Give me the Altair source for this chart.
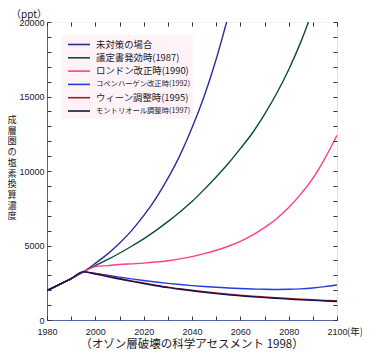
import altair as alt
import pandas as pd

# ---------------- data ----------------
series_names = [
    "未対策の場合",
    "議定書発効時(1987)",
    "ロンドン改正時(1990)",
    "コペンハーゲン改正時(1992)",
    "ウィーン調整時(1995)",
    "モントリオール調整時(1997)",
]
series_colors = ["#2a2e96", "#0f4a3a", "#ff3d8c", "#1f3ee0", "#a01832", "#14144c"]

common_years = [1980, 1985, 1990, 1995]
common_vals = [1970, 2370, 2780, 3230]

none_years = [2000, 2005, 2010, 2015, 2020, 2025, 2030, 2035, 2040, 2045, 2050, 2055]
none_vals = [3800, 4420, 5150, 6000, 7000, 8150, 9500, 11050, 12900, 15000, 17500, 20400]

y1987_years = [2000, 2005, 2010, 2015, 2020, 2025, 2030, 2035, 2040, 2045, 2050, 2055,
               2060, 2065, 2070, 2075, 2080, 2085, 2090]
y1987_vals = [3650, 4050, 4480, 4950, 5450, 6000, 6600, 7250, 7950, 8750, 9600, 10500,
              11500, 12550, 13800, 15200, 16800, 18650, 20800]

late_years = [2000, 2005, 2010, 2015, 2020, 2025, 2030, 2035, 2040, 2045, 2050, 2055,
              2060, 2065, 2070, 2075, 2080, 2085, 2090, 2095, 2100]
london_vals = [3580, 3650, 3720, 3770, 3820, 3890, 3980, 4100, 4250, 4450, 4680, 4950,
               5280, 5700, 6200, 6800, 7550, 8450, 9500, 10850, 12400]
copen_vals = [3120, 3000, 2880, 2760, 2650, 2550, 2460, 2380, 2310, 2250, 2200, 2150,
              2110, 2080, 2060, 2050, 2060, 2090, 2150, 2240, 2350]
vienna_vals = [3120, 2950, 2790, 2630, 2480, 2340, 2210, 2100, 2000, 1900, 1810, 1730,
               1660, 1600, 1540, 1490, 1440, 1400, 1360, 1320, 1290]
montreal_vals = [3090, 2910, 2750, 2590, 2440, 2300, 2170, 2060, 1960, 1860, 1770, 1690,
                 1620, 1560, 1500, 1450, 1400, 1360, 1320, 1280, 1240]

x_label_values = [1980, 2000, 2020, 2040, 2060, 2080, 2100]
x_tick_values = [1980, 1990, 2000, 2010, 2020, 2030, 2040, 2050, 2060, 2070, 2080, 2090, 2100]
y_label_values = [0, 5000, 10000, 15000, 20000]
y_tick_values = [0, 1000, 2000, 3000, 4000, 5000, 6000, 7000, 8000, 9000, 10000, 11000,
                 12000, 13000, 14000, 15000, 16000, 17000, 18000, 19000, 20000]

y_title_chars = ["成", "層", "圏", "の", "塩", "素", "換", "算", "濃", "度"]
unit_text = ["（ppt）"]
year_unit_text = ["(年)"]
caption_text = ["（オゾン層破壊の科学アセスメント 1998）"]

# ---------------- layout ----------------
W, H = 290, 298
tex_x = [1980 + k * 3 * 120 / W for k in range(0, 97)]
tex_y = [20000 - k * 3 * 20000 / H for k in range(0, 100)]

rows = []
tails = [
    (none_years, none_vals),
    (y1987_years, y1987_vals),
    (late_years, london_vals),
    (late_years, copen_vals),
    (late_years, vienna_vals),
    (late_years, montreal_vals),
]
for name, (yy, vv) in zip(series_names, tails):
    for j, (a, b) in enumerate(zip(common_years + yy, common_vals + vv)):
        rows.append({"series": name, "year": a, "ppt": b, "order": j})
df = pd.DataFrame(rows)
legend_df = pd.DataFrame({"series": series_names})

FONT_NUM = "Liberation Sans"
FONT_JP = "Noto Sans CJK JP"
TXT = "#1a1a2a"

xscale = alt.Scale(domain=[1980, 2100], nice=False, zero=False)
yscale = alt.Scale(domain=[0, 20000], nice=False)
cscale = alt.Scale(domain=series_names, range=series_colors)

tex = alt.Chart(df).mark_line(opacity=0).encode(
    x=alt.X("year:Q", scale=xscale,
            axis=alt.Axis(orient="bottom", values=tex_x, grid=True, gridColor="#ffffff",
                          gridWidth=1, gridOpacity=0.6, labels=False, ticks=False,
                          domain=False, title=None)),
    y=alt.Y("ppt:Q", scale=yscale,
            axis=alt.Axis(orient="left", values=tex_y, grid=True, gridColor="#ffffff",
                          gridWidth=1, gridOpacity=0.6, labels=False, ticks=False,
                          domain=False, title=None)),
    detail="series:N",
)

lines = alt.Chart(df).mark_line(clip=True, strokeWidth=1.4, interpolate="monotone").encode(
    x=alt.X("year:Q", scale=xscale,
            axis=alt.Axis(orient="bottom", values=x_label_values, grid=False, ticks=False,
                          format="d",
                          labelFont=FONT_NUM, labelFontSize=9, labelColor=TXT,
                          labelPadding=7, domain=True, domainColor="#5068a8",
                          labelFlush=False, title=None)),
    y=alt.Y("ppt:Q", scale=yscale,
            axis=alt.Axis(orient="left", values=y_label_values, grid=False, ticks=False,
                          format="d",
                          labelFont=FONT_NUM, labelFontSize=9, labelColor=TXT,
                          labelPadding=3, domain=True, domainColor="#606070",
                          labelFlush=False, title=None)),
    color=alt.Color("series:N", sort=series_names, scale=cscale, legend=None),
    order="order:Q",
)

tick_a = alt.Chart(df).mark_line(opacity=0).encode(
    x=alt.X("year:Q", scale=xscale,
            axis=alt.Axis(orient="top", offset=-H, values=x_tick_values, grid=False,
                          labels=False, ticks=True, tickSize=4, tickColor="#333",
                          tickWidth=1, domain=False, title=None, zindex=1)),
    y=alt.Y("ppt:Q", scale=yscale,
            axis=alt.Axis(orient="right", offset=-W, values=y_tick_values, grid=False,
                          labels=False, ticks=True, tickSize=4, tickColor="#333",
                          tickWidth=1, domain=False, title=None, zindex=1)),
    detail="series:N",
)
tick_b = alt.Chart(df).mark_line(opacity=0).encode(
    x=alt.X("year:Q", scale=xscale,
            axis=alt.Axis(orient="bottom", offset=-H, values=x_tick_values, grid=False,
                          labels=False, ticks=True, tickSize=4, tickColor="#333",
                          tickWidth=1, domain=False, title=None, zindex=1)),
    y=alt.Y("ppt:Q", scale=yscale,
            axis=alt.Axis(orient="left", offset=-W, values=y_tick_values, grid=False,
                          labels=False, ticks=True, tickSize=4, tickColor="#333",
                          tickWidth=1, domain=False, title=None, zindex=1)),
    detail="series:N",
)

# ---- legend built from the series list, on its own point scale ----
leg_y = alt.Y("series:N", sort=series_names,
              scale=alt.Scale(type="point", domain=series_names, range=[22.5, 89], padding=0),
              axis=None)
leg_bg = alt.Chart(pd.DataFrame({"t": ["bg"]})).mark_rect(
    fill="#fff0f6", opacity=0.78
).encode(x=alt.value(15), x2=alt.value(146), y=alt.value(13), y2=alt.value(97))
leg_lines = alt.Chart(legend_df).mark_rule(strokeWidth=1.6).encode(
    x=alt.value(21), x2=alt.value(43), y=leg_y,
    color=alt.Color("series:N", scale=cscale, legend=None),
)
leg_text = alt.Chart(legend_df).transform_calculate(
    fs="length(datum.series) > 14 ? 7.3 : 9.4"
).mark_text(font=FONT_JP, color=TXT, align="left", baseline="middle").encode(
    x=alt.value(49), y=leg_y, text="series:N",
    size=alt.Size("fs:Q", scale=None, legend=None),
)

title_layers = []
for i, ch in enumerate(y_title_chars):
    title_layers.append(
        alt.Chart(pd.DataFrame({"t": [ch]})).mark_text(
            font=FONT_JP, fontSize=9.2, color=TXT, align="center", baseline="middle"
        ).encode(x=alt.value(-35), y=alt.value(98 + 10.7 * i), text="t:N")
    )

unit = alt.Chart(pd.DataFrame({"t": unit_text})).mark_text(
    font=FONT_JP, fontSize=10, color=TXT, align="center", baseline="middle"
).encode(x=alt.value(-18), y=alt.value(-7.5), text="t:N")

year_unit = alt.Chart(pd.DataFrame({"t": year_unit_text})).mark_text(
    font=FONT_JP, fontSize=9.5, color=TXT, align="left", baseline="middle"
).encode(x=alt.value(W + 10), y=alt.value(H + 12), text="t:N")

caption = alt.Chart(pd.DataFrame({"t": caption_text})).mark_text(
    font=FONT_JP, fontSize=11.5, color=TXT, align="center", baseline="middle"
).encode(x=alt.value(W / 2), y=alt.value(H + 25), text="t:N")

chart = alt.layer(
    tex, leg_bg, lines, tick_a, tick_b, leg_lines, leg_text,
    *title_layers, unit, year_unit, caption
).resolve_axis(
    x="independent", y="independent"
).resolve_scale(
    y="independent"
).properties(
    width=W, height=H,
    autosize=alt.AutoSizeParams(type="none"),
    padding={"left": 39, "top": 14, "right": 25, "bottom": 32},
).configure_view(
    fill="#ffff1a", stroke="#7a8090", strokeWidth=1
).configure(background="white")

chart.save("out.html", embed_options={"renderer": "svg", "actions": False})
